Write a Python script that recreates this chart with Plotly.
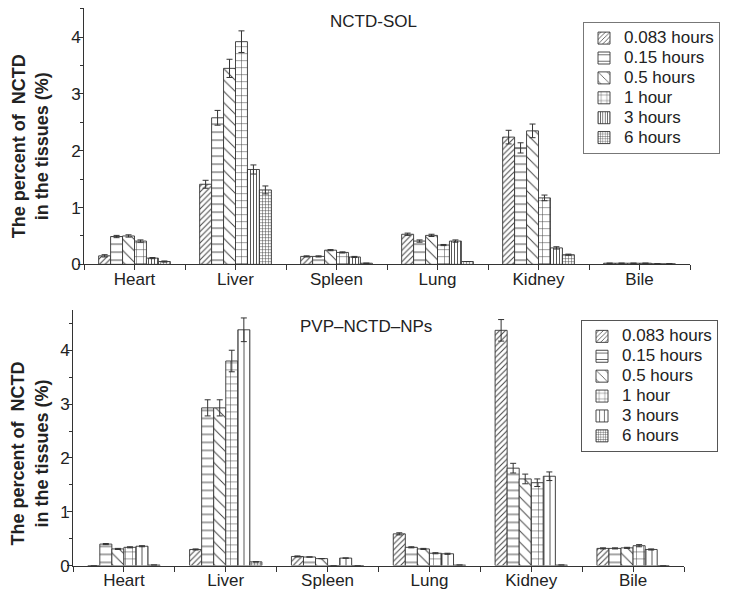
import plotly.graph_objects as go

organs = ["Heart", "Liver", "Spleen", "Lung", "Kidney", "Bile"]
series_names = ["0.083 hours", "0.15 hours", "0.5 hours", "1 hour", "3 hours", "6 hours"]

# NCTD-SOL (top panel)
sol_0083 = [0.15, 1.41, 0.14, 0.53, 2.24, 0.02]
sol_015 = [0.49, 2.58, 0.14, 0.41, 2.05, 0.02]
sol_05 = [0.50, 3.45, 0.25, 0.51, 2.35, 0.02]
sol_1 = [0.41, 3.92, 0.21, 0.34, 1.17, 0.02]
sol_3 = [0.11, 1.67, 0.13, 0.41, 0.29, 0.01]
sol_6 = [0.05, 1.31, 0.02, 0.05, 0.17, 0.01]

sol_err_0083 = [0.02, 0.07, 0.01, 0.02, 0.12, 0.0]
sol_err_015 = [0.02, 0.13, 0.01, 0.02, 0.09, 0.0]
sol_err_05 = [0.02, 0.16, 0.01, 0.02, 0.12, 0.0]
sol_err_1 = [0.02, 0.19, 0.01, 0.01, 0.05, 0.0]
sol_err_3 = [0.01, 0.08, 0.01, 0.02, 0.02, 0.0]
sol_err_6 = [0.01, 0.07, 0.0, 0.0, 0.01, 0.0]

# PVP-NCTD-NPs (bottom panel)
np_0083 = [0.0, 0.30, 0.17, 0.59, 4.37, 0.32]
np_015 = [0.40, 2.93, 0.16, 0.34, 1.81, 0.32]
np_05 = [0.31, 2.93, 0.13, 0.31, 1.61, 0.33]
np_1 = [0.34, 3.80, 0.0, 0.23, 1.54, 0.37]
np_3 = [0.36, 4.38, 0.14, 0.22, 1.66, 0.30]
np_6 = [0.01, 0.07, 0.0, 0.01, 0.01, 0.0]

np_err_0083 = [0.0, 0.01, 0.01, 0.02, 0.20, 0.01]
np_err_015 = [0.01, 0.15, 0.0, 0.01, 0.09, 0.01]
np_err_05 = [0.01, 0.15, 0.0, 0.01, 0.09, 0.01]
np_err_1 = [0.01, 0.20, 0.0, 0.01, 0.07, 0.02]
np_err_3 = [0.01, 0.22, 0.0, 0.01, 0.08, 0.01]
np_err_6 = [0.0, 0.0, 0.0, 0.0, 0.0, 0.0]

sol_vals = [sol_0083, sol_015, sol_05, sol_1, sol_3, sol_6]
sol_errs = [sol_err_0083, sol_err_015, sol_err_05, sol_err_1, sol_err_3, sol_err_6]
np_vals = [np_0083, np_015, np_05, np_1, np_3, np_6]
np_errs = [np_err_0083, np_err_015, np_err_05, np_err_1, np_err_3, np_err_6]

xpos = list(range(len(organs)))

INK = "#333333"
FONT = "Liberation Sans, Arial, sans-serif"

patterns_top = [("/", 4, 0.25), ("-", 8, 0.12), ("\\", 8, 0.12), ("+", 7, 0.14), ("|", 3, 0.3), ("+", 3, 0.3)]
patterns_bot = [("/", 4, 0.25), ("-", 8, 0.12), ("\\", 8, 0.12), ("+", 7, 0.14), ("|", 6, 0.15), ("+", 3, 0.3)]

fig = go.Figure()

def add_panel(vals, errs, pats, xa, ya, legend):
    for name, v, e, (shp, sz, sol) in zip(series_names, vals, errs, pats):
        fig.add_trace(go.Bar(
            x=xpos, y=v, xaxis=xa, yaxis=ya, legend=legend,
            name='<span style="font-size:17px">' + name + "</span>",
            offsetgroup=name,
            marker=dict(color="white", line=dict(color=INK, width=0.9),
                        pattern=dict(shape=shp, size=sz, solidity=sol,
                                     fgcolor="#444444", bgcolor="white", fillmode="replace")),
            error_y=dict(type="data", array=e, visible=True, color=INK, thickness=1, width=3),
        ))

add_panel(sol_vals, sol_errs, patterns_top, "x", "y", "legend")
add_panel(np_vals, np_errs, patterns_bot, "x2", "y2", "legend2")

# page has an 8px body margin; the captured page is slightly squeezed vertically
OFF = 8
KY = 0.982
W, H = 732 - 2 * OFF, 599 - 2 * OFF

def px(p):
    return (p - OFF) / W

def py(p):
    return 1 - (p / KY - OFF) / H

xcommon = dict(
    tickmode="array", tickvals=xpos, ticktext=organs,
    ticks="outside", ticklen=5, tickwidth=1, tickcolor=INK,
    showline=True, linecolor=INK, linewidth=1, showgrid=False, zeroline=False,
    range=[-0.5, 5.5], tickfont=dict(size=17, color="#222222", family=FONT),
    minor=dict(tickmode="linear", tick0=0.5, dtick=1, ticks="outside", ticklen=5, tickcolor=INK),
)
ycommon = dict(
    tickmode="linear", tick0=0, dtick=1, ticks="outside", ticklen=5, tickwidth=1, tickcolor=INK,
    showline=True, linecolor=INK, linewidth=1, showgrid=False, zeroline=False,
    tickfont=dict(size=17, color="#222222", family=FONT),
    minor=dict(tickmode="linear", tick0=0, dtick=0.5, ticks="outside", ticklen=3, tickcolor=INK),
)

fig.update_layout(
    width=W, height=H, margin=dict(l=0, r=0, t=0, b=0),
    paper_bgcolor="white", plot_bgcolor="white",
    font=dict(family=FONT, color="#222222"),
    barmode="group", bargap=0.29, bargroupgap=0,
    xaxis=dict(domain=[px(84), px(690)], anchor="y", **xcommon),
    yaxis=dict(domain=[py(264), py(8)], anchor="x", range=[0, 4.51], **ycommon),
    xaxis2=dict(domain=[px(73), px(684)], anchor="y2", **xcommon),
    yaxis2=dict(domain=[py(565), py(310)], anchor="x2", range=[0, 4.74], **ycommon),
    legend=dict(x=px(583), y=py(22), xanchor="left", yanchor="top",
                bordercolor="#777777", borderwidth=1, bgcolor="white",
                font=dict(size=13, family=FONT, color="#222222"), tracegroupgap=0),
    legend2=dict(x=px(581), y=py(320), xanchor="left", yanchor="top",
                 bordercolor="#555555", borderwidth=1, bgcolor="white",
                 font=dict(size=13, family=FONT, color="#222222"), tracegroupgap=0),
    showlegend=True,
)

try:
    fig.update_xaxes(ticklabelstandoff=-6)
    fig.update_yaxes(ticklabelstandoff=-6)
except (ValueError, AttributeError):
    pass

ytitle = "The percent of  NCTD<br>in the tissues (%)"
for yc in (146, 453):
    fig.add_annotation(text=ytitle, textangle=-90, x=px(30), y=py(yc), xref="paper", yref="paper",
                       xanchor="center", yanchor="middle", showarrow=False,
                       font=dict(size=18, family=FONT, color="#222222", weight="bold"))
fig.add_annotation(text="NCTD-SOL", x=px(373), y=py(21), xref="paper", yref="paper",
                   xanchor="center", yanchor="middle", showarrow=False,
                   font=dict(size=17, family=FONT, color="#222222"))
fig.add_annotation(text="PVP–NCTD–NPs", x=px(366), y=py(326), xref="paper", yref="paper",
                   xanchor="center", yanchor="middle", showarrow=False,
                   font=dict(size=17, family=FONT, color="#222222"))

fig.write_html("out.html")
